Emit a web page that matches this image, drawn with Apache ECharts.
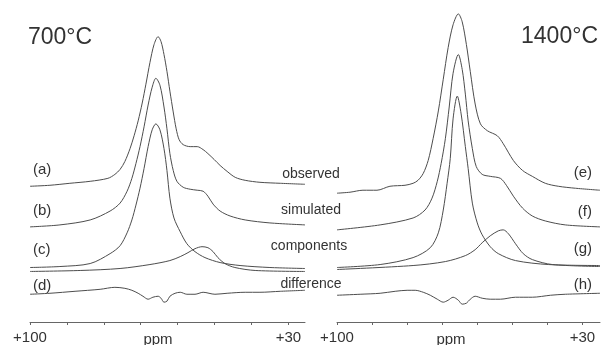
<!DOCTYPE html>
<html>
<head>
<meta charset="utf-8">
<script src="https://cdn.jsdelivr.net/npm/echarts@6/dist/echarts.min.js"></script>
<style>
  html, body { margin: 0; padding: 0; background: #fff; }
  #chart { width: 602px; height: 345px; }
</style>
</head>
<body>
<div id="chart"></div>
<script>
// x = chemical shift (ppm), y = trace height (arbitrary units, stacked)
const obs700 = [[100,137],[94.6,138],[89.2,140],[83.7,142],[78.9,145],[77.0,149],[75.6,154],[74.3,162],[72.9,175],[71.8,188],[70.7,203],[69.6,221],[68.6,240],[67.5,262],[66.4,280],[65.3,288],[64.5,283],[63.7,270],[62.9,253],[62.1,233],[61.2,212],[60.4,195],[59.6,184],[58.5,179],[56.6,177],[54.7,177],[53.1,174],[51.8,170],[50.1,164],[48.5,158],[46.6,152],[44.4,146],[41.7,143],[37.7,141],[32.2,140],[25.5,139]];
const sim700 = [[100,96],[91.9,98],[83.7,103],[78.3,112],[75.6,120],[73.7,132],[72.4,145],[71.3,160],[70.2,177],[69.1,197],[68.0,219],[66.9,237],[65.9,246],[64.8,239],[63.7,217],[62.9,195],[62.1,170],[61.2,153],[60.2,142],[58.5,136],[56.6,134],[54.7,133],[53.1,132],[51.8,127],[50.4,119],[48.5,112],[45.8,107],[41.7,103],[35.0,100],[25.5,98]];
const compA700 = [[100,55],[91.9,56],[83.7,59],[78.3,69],[75.6,77],[73.7,90],[72.4,103],[71.3,118],[70.2,135],[69.1,155],[68.0,177],[66.9,194],[65.9,200],[64.8,194],[63.7,175],[62.9,153],[62.1,125],[61.0,105],[59.3,91],[57.5,79],[55.3,71],[52.6,65],[48.5,60],[43.1,57],[35.0,55],[25.5,54]];
const compB700 = [[100,51],[86.4,52],[75.6,54],[67.5,58],[62.1,62],[59.3,66],[57.2,70],[55.3,74],[53.4,76],[51.8,75],[50.4,71],[49.1,65],[47.2,59],[44.5,55],[39.0,52],[25.5,51]];
const diff700 = [[100,28],[94.6,29],[87.8,31],[81.0,33],[77.0,35],[74.3,34],[72.4,32],[70.7,29],[69.4,26],[68.0,23],[66.7,25],[65.3,26],[64.5,24],[63.7,20],[62.9,21],[62.1,26],[60.7,29],[59.3,30],[57.5,28],[55.3,28],[53.1,30],[49.9,28],[46.6,29],[41.7,30],[37.7,30],[32.2,31],[25.5,32]];

const obs1400 = [[100,130],[96.3,131],[92.6,133],[88.6,133],[84.9,137],[80.6,138],[78.3,140],[76.9,143],[75.4,150],[74.0,163],[72.6,185],[71.1,213],[69.7,245],[68.3,277],[66.9,300],[65.4,311],[64.3,303],[63.1,280],[62.0,253],[60.6,220],[59.1,200],[57.1,193],[54.3,188],[52.6,180],[49.7,163],[47.1,153],[44.3,147],[40.6,140],[36.9,137],[32.0,135],[25,133]];
const sim1400 = [[100,93],[87.7,98],[78.3,105],[74.9,113],[72.9,125],[71.4,142],[70.3,160],[69.1,185],[68.0,217],[66.9,251],[65.4,270],[64.3,255],[63.4,230],[62.6,203],[61.4,175],[60.3,157],[58.6,149],[56.3,147],[53.4,145],[51.7,138],[49.7,127],[47.1,115],[44.3,107],[40.6,102],[34.9,98],[25,96]];
const compA1400 = [[100,55],[87.7,58],[78.3,65],[73.4,75],[71.1,90],[69.7,113],[68.6,140],[67.7,165],[66.9,205],[65.7,228],[64.6,210],[63.4,177],[62.6,155],[61.4,120],[60.0,100],[58.6,88],[56.3,76],[54.0,69],[49.1,62],[39.7,58],[25,57]];
const compB1400 = [[100,53],[78.3,57],[69.1,61],[63.4,67],[60.6,73],[58.6,80],[56.3,87],[54.0,92],[52.6,93],[51.1,89],[49.1,79],[46.9,69],[44.3,63],[38.6,58],[25,56]];
const diff1400 = [[100,27],[93.4,28],[87.7,29],[83.4,31],[80.0,32],[77.7,32],[75.4,30],[73.4,27],[71.4,23],[69.7,20],[68.3,22],[66.9,25],[65.4,22],[64.3,18],[63.1,19],[62.0,23],[60.6,26],[58.6,24],[56.3,23],[53.4,23],[49.1,25],[44.3,25],[39.1,27],[34.9,28],[25,29]];

const tickPpm = [30, 40, 50, 60, 70, 80, 90, 100];
const endLabels = [30, 100];

const ink = '#4d4d4d';
const font = 'Liberation Sans, Arial, sans-serif';

const chart = echarts.init(document.getElementById('chart'));

const xAxisBase = (idx, min) => ({
  gridIndex: idx,
  type: 'value',
  inverse: true,
  min: min,
  max: 100,
  axisLine: { lineStyle: { color: '#666', width: 1 } },
  axisTick: { customValues: tickPpm, length: 3, lineStyle: { color: '#666' } },
  axisLabel: {
    customValues: endLabels,
    formatter: v => '+' + v,
    color: '#333', fontSize: 15, fontFamily: font, margin: 8
  },
  splitLine: { show: false }
});

const yAxisBase = idx => ({
  gridIndex: idx, type: 'value', min: 0, max: 325, show: false
});

const trace = (data, idx) => ({
  type: 'line',
  xAxisIndex: idx,
  yAxisIndex: idx,
  data: data,
  showSymbol: false,
  smooth: 0.3,
  lineStyle: { color: ink, width: 1 },
  silent: true
});

const txt = (x, y, s, size, align) => ({
  type: 'text', x: x, y: y,
  style: { text: s, fill: '#333', font: size + 'px ' + font, textAlign: align || 'left', textVerticalAlign: 'middle' }
});

let option = {
  animation: false,
  backgroundColor: '#fff',
  grid: [
    { left: 30, top: 0, width: 275, height: 325 },
    { left: 337, top: 0, width: 263, height: 325 }
  ],
  xAxis: [xAxisBase(0, 25.5), xAxisBase(1, 25)],
  yAxis: [yAxisBase(0), yAxisBase(1)],
  series: [
    trace(obs700, 0), trace(sim700, 0), trace(compA700, 0), trace(compB700, 0), trace(diff700, 0),
    trace(obs1400, 1), trace(sim1400, 1), trace(compA1400, 1), trace(compB1400, 1), trace(diff1400, 1)
  ],
  graphic: [
    txt(28, 38, '700°C', 23),
    txt(598, 37, '1400°C', 23, 'right'),
    txt(33, 170, '(a)', 15), txt(33, 211, '(b)', 15), txt(33, 250, '(c)', 15), txt(33, 286, '(d)', 15),
    txt(592, 173, '(e)', 15, 'right'), txt(592, 212, '(f)', 15, 'right'), txt(592, 249, '(g)', 15, 'right'), txt(592, 285, '(h)', 15, 'right'),
    txt(311, 174, 'observed', 14, 'center'),
    txt(311, 210, 'simulated', 14, 'center'),
    txt(309, 246, 'components', 14, 'center'),
    txt(311, 284, 'difference', 14, 'center'),
    txt(158, 340, 'ppm', 15, 'center'),
    txt(451, 340, 'ppm', 15, 'center')
  ]
};

chart.setOption(option);
</script>
</body>
</html>
